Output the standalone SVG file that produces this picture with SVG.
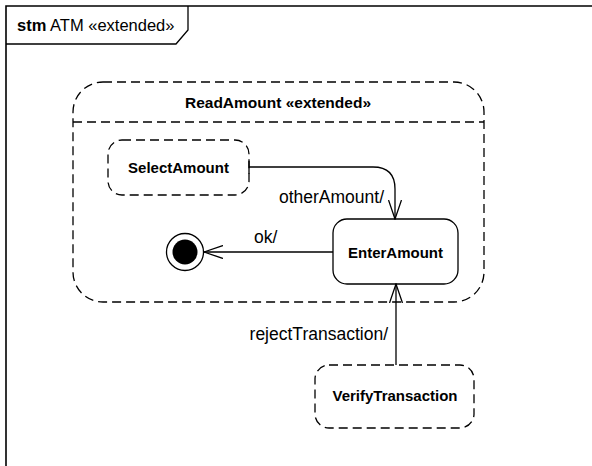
<svg xmlns="http://www.w3.org/2000/svg" width="592" height="466" viewBox="0 0 592 466">
<style>
.ln{fill:none;stroke:#000;stroke-width:1.3}
.dash{fill:#fff;stroke:#000;stroke-width:1.3;stroke-dasharray:9 5}
.solid{fill:#fff;stroke:#000;stroke-width:1.3}
.b{font-family:"Liberation Sans",Arial,sans-serif;font-weight:bold;font-size:15px;fill:#000}
.r{font-family:"Liberation Sans",Arial,sans-serif;font-size:17.5px;fill:#000}
</style>
<defs>
<marker id="open" viewBox="0 0 20 14" refX="19" refY="7" markerWidth="20" markerHeight="14" orient="auto" markerUnits="userSpaceOnUse">
<path d="M0,0.5 L19,7 L0,13.5" fill="none" stroke="#000" stroke-width="1.3"/>
</marker>
</defs>
<rect width="592" height="466" fill="#fff"/>
<g id="frame">
<path class="ln" d="M6,466 V6 H592" style="stroke-width:1.6"/>
<path class="ln" d="M6,44 H176 L188,30 V6"/>
<text x="17" y="31" style="font-family:'Liberation Sans',Arial,sans-serif;font-size:16.5px"><tspan font-weight="bold">stm</tspan> ATM «extended»</text>
</g>
<g id="ReadAmount">
<rect class="dash" x="73" y="82" width="411" height="220" rx="30" ry="30" style="fill:none"/>
<line class="ln" x1="73" y1="122" x2="484" y2="122" stroke-dasharray="9 5"/>
<text class="b" x="278" y="108" text-anchor="middle" style="font-size:15.5px">ReadAmount «extended»</text>
</g>
<g id="SelectAmount">
<rect class="dash" x="108" y="140" width="141" height="55" rx="14"/>
<text class="b" x="178.5" y="173" text-anchor="middle">SelectAmount</text>
</g>
<g id="EnterAmount">
<rect class="solid" x="333" y="219" width="125" height="65" rx="14"/>
<text class="b" x="395.5" y="258" text-anchor="middle">EnterAmount</text>
</g>
<g id="Final">
<circle cx="185" cy="252" r="18.5" fill="#fff" stroke="#000" stroke-width="1.3"/>
<circle cx="185" cy="252" r="12.5" fill="#000"/>
</g>
<g id="VerifyTransaction">
<rect class="dash" x="315" y="365" width="159" height="63" rx="14"/>
<text class="b" x="395" y="401" text-anchor="middle">VerifyTransaction</text>
</g>
<g id="connectors">
<path class="ln" d="M249,161 V174"/>
<path class="ln" d="M249,167 H373 Q395,167 395,189 V219" marker-end="url(#open)"/>
<text class="r" x="384" y="203" text-anchor="end">otherAmount/</text>
<path class="ln" d="M333,252 H204" marker-end="url(#open)"/>
<text class="r" x="254" y="243">ok/</text>
<path class="ln" d="M396,365 V284" marker-end="url(#open)"/>
<text class="r" x="388" y="340" text-anchor="end">rejectTransaction/</text>
</g>
</svg>
